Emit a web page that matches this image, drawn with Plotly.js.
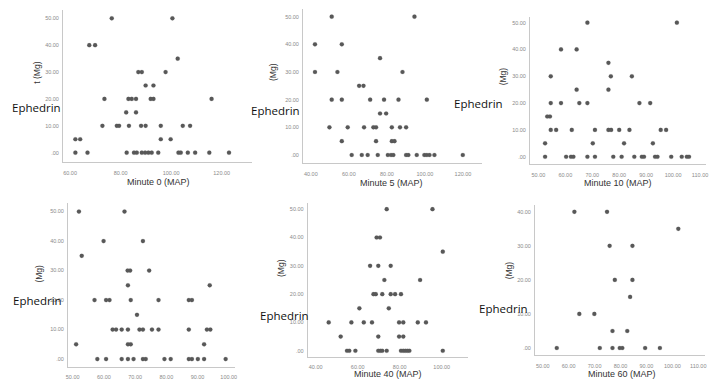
<!DOCTYPE html>
<html><head><meta charset="utf-8">
<script src="https://cdn.plot.ly/plotly-3.0.1.min.js"></script>
<style>html,body{margin:0;padding:0;background:#fff}#chart{width:714px;height:380px}</style>
</head><body><div id="chart"></div>
<script>
// ---- data ----
const m0_x = [76.5,100.5, 67.6,69.9, 102.6, 87.0,88.4,97.8, 89.9,93.0, 73.6,83.1,84.4,86.1,91.9,93.0,116.0, 82.2,86.1, 72.8,78.5,79.4,83.3,88.1,89.9,95.9,104.6,107.5, 62.1,64.0,95.9,99.8, 62.1,66.9,82.4,85.3,86.4,88.4,89.7,91.0,92.3,94.9,102.9,103.8,106.6,109.5,115.1,122.9];
const m0_y = [50,50, 40,40, 35, 30,30,30, 25,25, 20,20,20,20,20,20,20, 15,15, 10,10,10,10,10,10,10,10,10, 5,5,5,5, 0,0,0,0,0,0,0,0,0,0,0,0,0,0,0,0];

const m5_x = [51.0,94.5, 42.2,56.3, 76.4, 42.2,54.0,88.2, 65.4,67.7, 51.0,56.3,71.2,78.5,86.1,101.0, 76.4,79.6, 49.8,59.4,68.0,72.9,74.3,82.6,86.9,90.1, 56.3,74.3,82.6,84.0, 61.5,66.8,69.9,75.2,80.5,82.2,83.4,90.1,91.3,95.7,99.7,101.0,102.4,105.0,119.9];
const m5_y = [50,50, 40,40, 35, 30,30,30, 25,25, 20,20,20,20,20,20, 15,15, 10,10,10,10,10,10,10,10, 5,5,5,5, 0,0,0,0,0,0,0,0,0,0,0,0,0,0,0];

const m10_x = [68.2,101.4, 58.4,64.2, 76.0, 54.6,76.9,84.7, 64.2,76.0, 54.6,58.4,65.2,68.2,87.5,91.5, 53.3,54.3, 54.6,56.6,62.4,71.0,76.0,77.0,80.0,83.8,95.4,97.4, 52.5,70.2,81.8,92.5, 52.5,60.3,62.1,63.0,68.2,71.0,77.8,80.9,85.6,88.4,89.2,93.3,94.2,99.3,103.2,105.1,105.9];
const m10_y = [50,50, 40,40, 35, 30,30,30, 25,25, 20,20,20,20,20,20, 15,15, 10,10,10,10,10,10,10,10,10,10, 5,5,5,5, 0,0,0,0,0,0,0,0,0,0,0,0,0,0,0,0,0];

const m20_x = [52.0,66.6, 59.9,72.5, 52.9, 67.6,68.4,74.5, 67.7,93.9, 57.0,60.7,61.8,68.6,77.5,87.2,88.2, 70.6, 62.8,63.9,65.7,67.7,71.4,72.5,75.4,77.5,87.2,93.0,94.1, 51.1,67.7,68.6,92.1, 57.9,60.7,65.7,67.7,69.5,72.5,73.4,79.4,81.4,87.2,88.2,90.1,92.1,99.0];
const m20_y = [50,50, 40,40, 35, 30,30,30, 25,25, 20,20,20,20,20,20,20, 15, 10,10,10,10,10,10,10,10,10,10,10, 5,5,5,5, 0,0,0,0,0,0,0,0,0,0,0,0,0,0];

const m40_x = [73.8,95.6, 69.0,70.6, 100.5, 65.9,69.8,75.7, 72.7,89.7, 67.5,68.6,71.7,75.7,77.8,80.6, 60.8,74.8, 46.2,57.0,62.9,66.8,79.7,81.7,88.6,92.5, 51.9,69.8,79.7,81.7, 54.9,56.0,58.9,69.8,70.8,71.7,73.8,80.6,81.7,82.7,83.7,84.6,100.5];
const m40_y = [50,50, 40,40, 35, 30,30,30, 25,25, 20,20,20,20,20,20, 15,15, 10,10,10,10,10,10,10,10, 5,5,5,5, 0,0,0,0,0,0,0,0,0,0,0,0,0];

const m60_x = [62.2,74.8, 102.3, 75.8,84.6, 77.8,84.6, 83.7, 64.1,69.9, 76.9,82.6, 55.4,72.0,76.9,79.7,80.7,89.5,95.2];
const m60_y = [40,40, 35, 30,30, 20,20, 15, 10,10, 5,5, 0,0,0,0,0,0,0];

// tick labels
const yTickVals50 = [0,10,20,30,40,50];
const yTickText50 = ['.00','10.00','20.00','30.00','40.00','50.00'];
const yTickVals40 = [0,10,20,30,40];
const yTickText40 = ['.00','10.00','20.00','30.00','40.00'];
const xTickVals0 = [60,80,100,120];
const xTickText0 = ['60.00','80.00','100.00','120.00'];
const xTickVals5 = [40,60,80,100,120];
const xTickText5 = ['40.00','60.00','80.00','100.00','120.00'];
const xTickVals10 = [50,60,70,80,90,100,110];
const xTickText10 = ['50.00','60.00','70.00','80.00','90.00','100.00','110.00'];
const xTickVals20 = [50,60,70,80,90,100];
const xTickText20 = ['50.00','60.00','70.00','80.00','90.00','100.00'];
const xTickVals40 = [40,60,80,100];
const xTickText40 = ['40.00','60.00','80.00','100.00'];
const xTitles = ['Minute 0 (MAP)','Minute 5 (MAP)','Minute 10 (MAP)','','Minute 40 (MAP)','Minute 60 (MAP)'];
const yTitles = ['t (Mg)','(Mg)','(Mg)','(Mg)','(Mg)','(Mg)'];
const overlayLabel = 'Ephedrin';

// ---- layout (pixel geometry) ----
const W = 714, H = 380;
const panels = [
  {xs:m0_x, ys:m0_y, L:63, R:252, T:10, B:162, xr:[57.2,132.0], yr:[-3.46,53.1], xv:xTickVals0, xt:xTickText0, yv:yTickVals50, yt:yTickText50,
   xtitle:[158,182], ytitle:[36.7,73], eph:[36.5,107]},
  {xs:m5_x, ys:m5_y, L:303, R:482, T:9.3, B:163.3, xr:[35.9,130.0], yr:[-3.0,52.65], xv:xTickVals5, xt:xTickText5, yv:yTickVals50, yt:yTickText50,
   xtitle:[391.7,182.7], ytitle:[272.3,71.7], eph:[275,110]},
  {xs:m10_x, ys:m10_y, L:530, R:706, T:17, B:164, xr:[46.9,112.2], yr:[-2.7,52.1], xv:xTickVals10, xt:xTickText10, yv:yTickVals50, yt:yTickText50,
   xtitle:[618.3,182.7], ytitle:[503.3,76], eph:[478.5,103]},
  {xs:m20_x, ys:m20_y, L:68, R:235, T:203, B:366.7, xr:[48.5,102.0], yr:[-2.6,52.9], xv:xTickVals20, xt:xTickText20, yv:yTickVals50, yt:yTickText50,
   xtitle:null, ytitle:[39.3,273.3], eph:[37.5,300]},
  {xs:m40_x, ys:m40_y, L:307.7, R:468, T:202.7, B:356.7, xr:[36.2,112.5], yr:[-2.1,52.3], xv:xTickVals40, xt:xTickText40, yv:yTickVals50, yt:yTickText50,
   xtitle:[388.3,374.3], ytitle:[281.7,268.3], eph:[284.5,315]},
  {xs:m60_x, ys:m60_y, L:535, R:705, T:205, B:355, xr:[47.0,112.6], yr:[-2.05,42.0], xv:xTickVals10, xt:xTickText10, yv:yTickVals40, yt:yTickText40,
   xtitle:[621.7,374.3], ytitle:[509.3,270], eph:[503.5,308]}
];

const traces = [];
const layout = {
  width:W, height:H, margin:{l:0,r:0,t:0,b:0}, showlegend:false,
  paper_bgcolor:'#ffffff', plot_bgcolor:'#ffffff',
  font:{family:'Liberation Sans, Arial, sans-serif', color:'#333'},
  annotations:[]
};
const tickFont = {family:'Liberation Sans, Arial, sans-serif', size:5.5, color:'#8a8a8a'};
panels.forEach((p,i)=>{
  const n = i===0 ? '' : String(i+1);
  traces.push({type:'scatter', mode:'markers', x:p.xs, y:p.ys, xaxis:'x'+n, yaxis:'y'+n,
    marker:{size:4.2, color:'#585858', line:{width:0.5, color:'rgba(90,90,90,0.3)'}}, hoverinfo:'skip'});
  layout['xaxis'+n] = {domain:[p.L/W, p.R/W], range:p.xr, anchor:'y'+n, showgrid:false, zeroline:false,
    showline:true, linecolor:'#c8c8c8', linewidth:1, tickmode:'array', tickvals:p.xv, ticktext:p.xt,
    ticks:'outside', ticklen:5, tickcolor:'rgba(0,0,0,0)', tickfont:tickFont};
  layout['yaxis'+n] = {domain:[1-p.B/H, 1-p.T/H], range:p.yr, anchor:'x'+n, showgrid:false, zeroline:false,
    showline:true, linecolor:'#c8c8c8', linewidth:1, tickmode:'array', tickvals:p.yv, ticktext:p.yt,
    ticks:'outside', ticklen:2, tickcolor:'rgba(0,0,0,0)', tickfont:tickFont};
  if (p.xtitle) layout.annotations.push({xref:'paper', yref:'paper', x:p.xtitle[0]/W, y:1-p.xtitle[1]/H,
    xanchor:'center', yanchor:'middle', showarrow:false, text:xTitles[i], font:{size:9, color:'#333'}});
  layout.annotations.push({xref:'paper', yref:'paper', x:p.ytitle[0]/W, y:1-p.ytitle[1]/H,
    xanchor:'center', yanchor:'middle', showarrow:false, textangle:-90, text:yTitles[i], font:{size:8.5, color:'#333'}});
  layout.annotations.push({xref:'paper', yref:'paper', x:p.eph[0]/W, y:1-p.eph[1]/H,
    xanchor:'center', yanchor:'middle', showarrow:false, text:overlayLabel,
    font:{family:'Open Sans, Noto Sans, sans-serif', size:11.5, color:'#111'}});
});
Plotly.newPlot('chart', traces, layout, {displayModeBar:false, staticPlot:true});
</script></body></html>
